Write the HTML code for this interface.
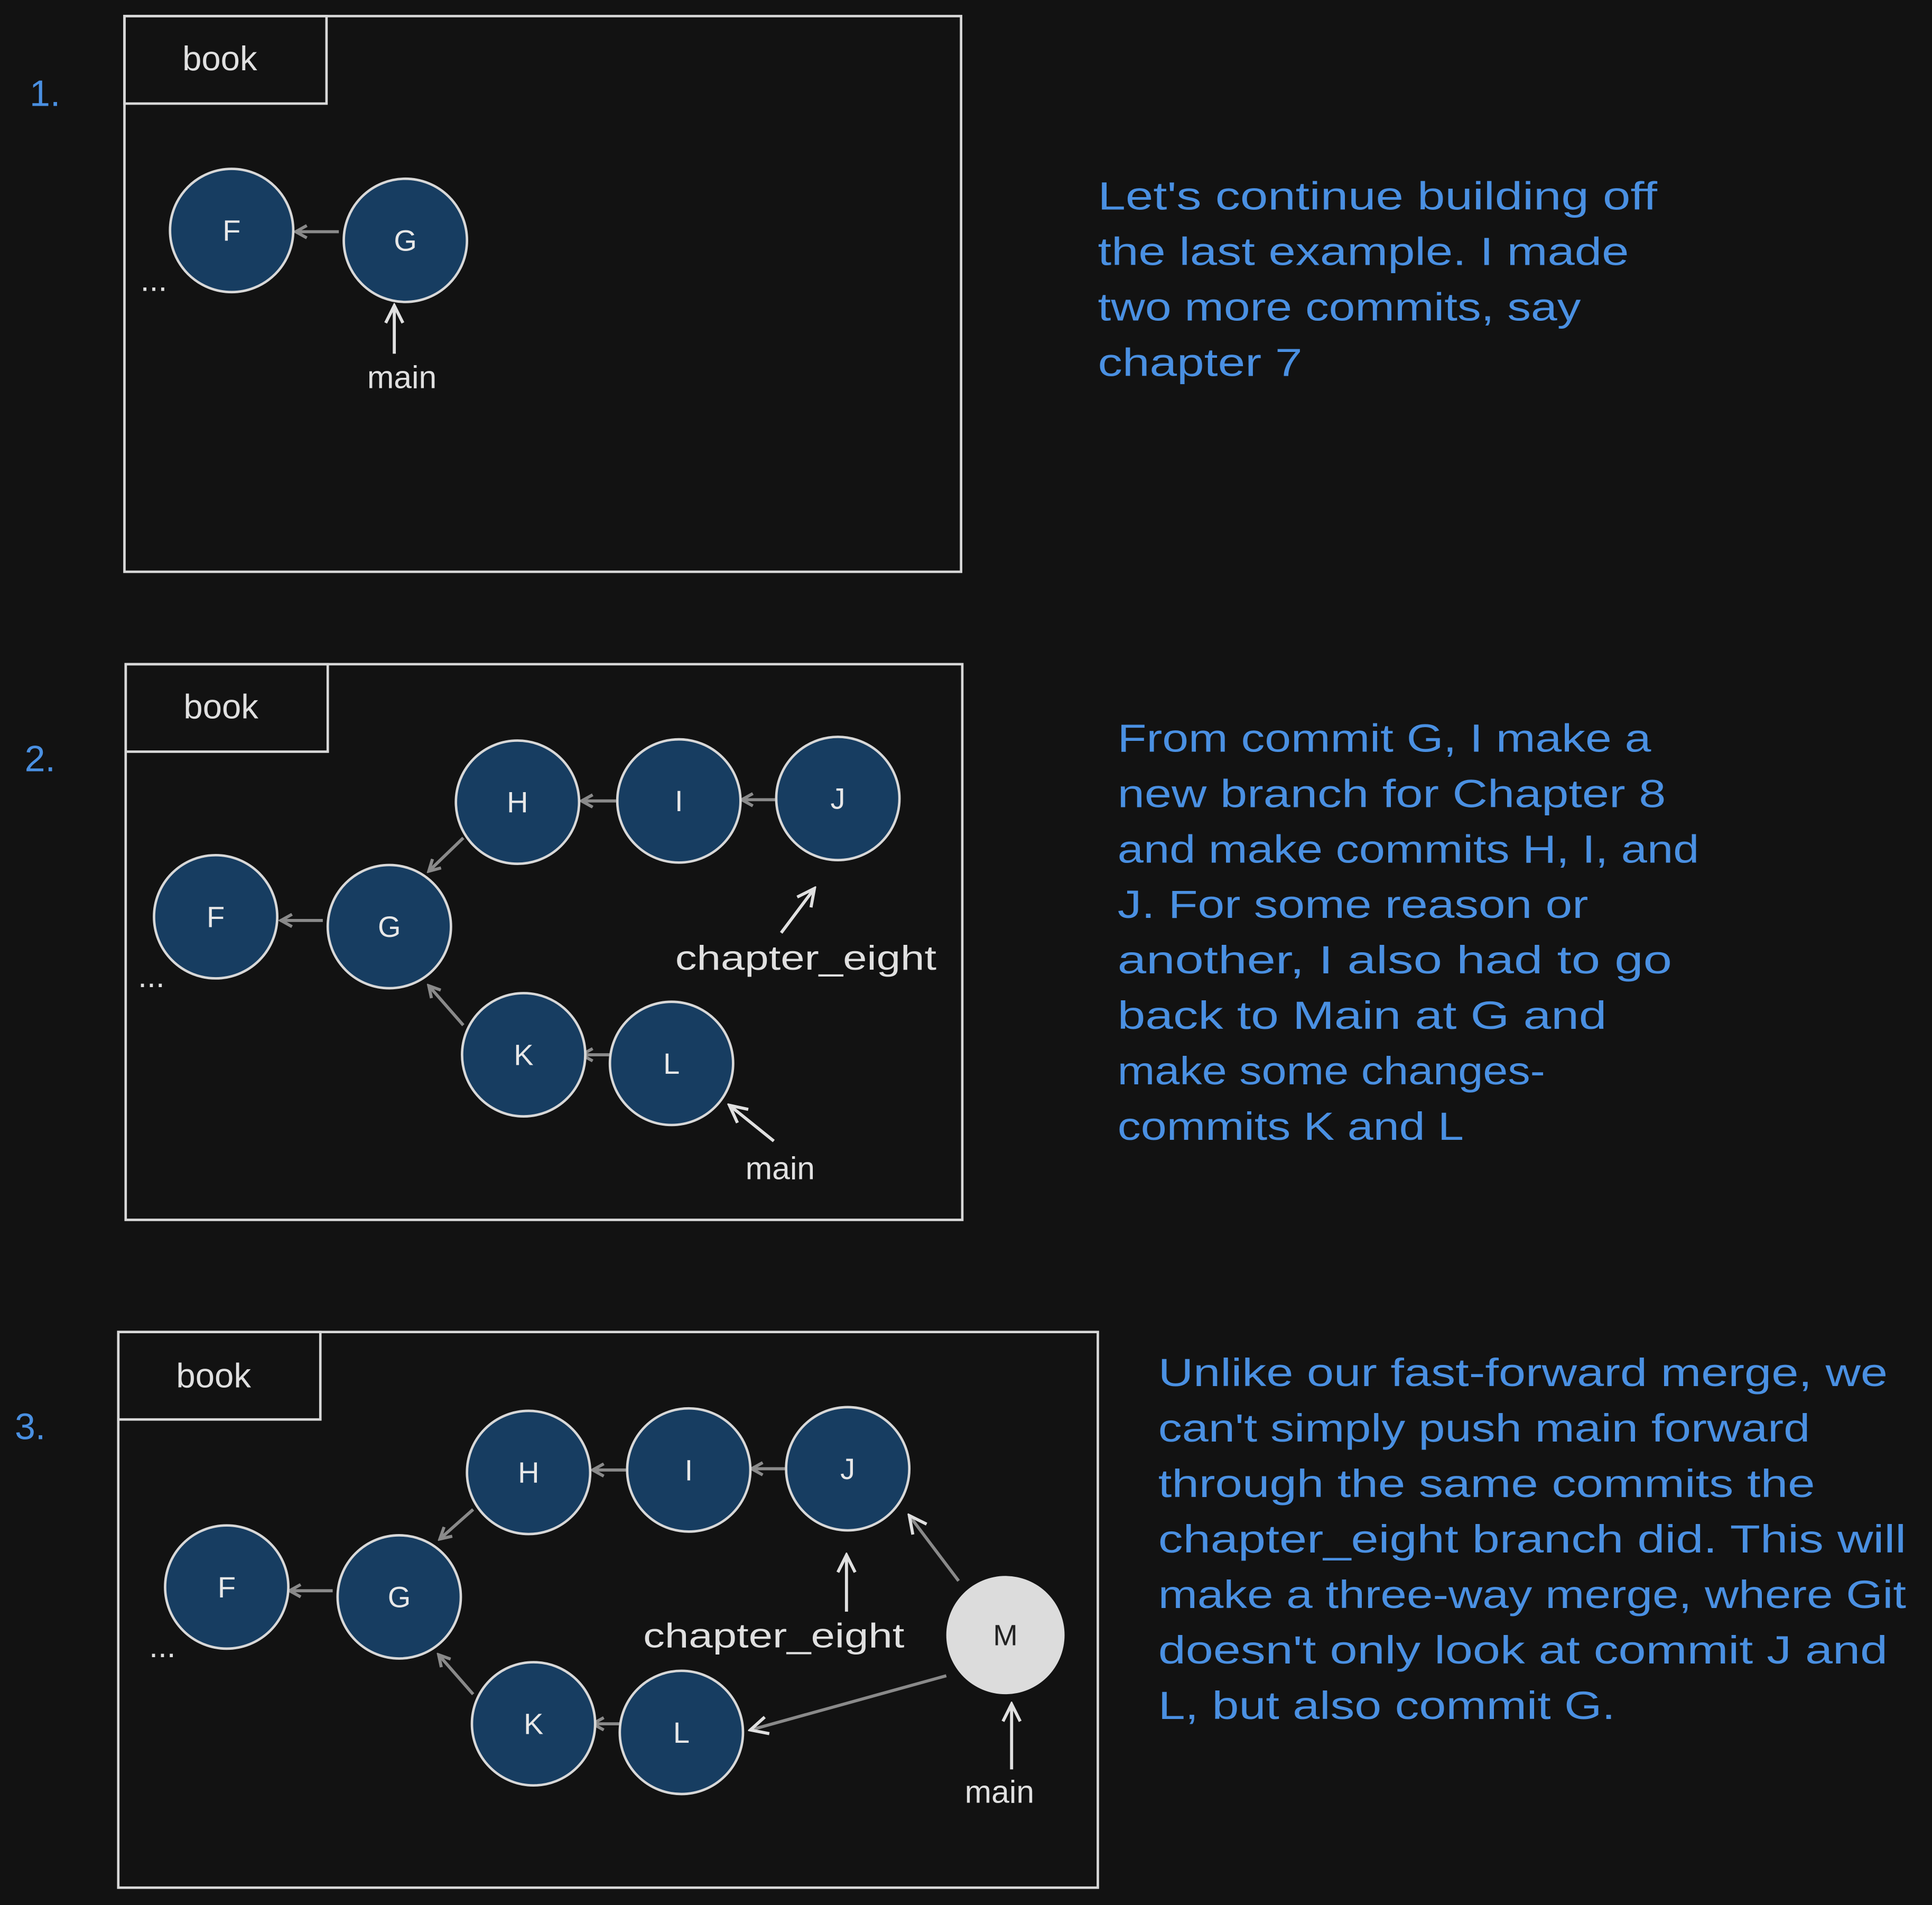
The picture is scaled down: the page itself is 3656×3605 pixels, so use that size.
<!DOCTYPE html>
<html><head><meta charset="utf-8"><style>
html,body{margin:0;padding:0;background:#121212;}
svg{display:block}
text{font-family:"Liberation Sans",sans-serif;}
.b{fill:#4a90e2;font-size:32px}
.w{fill:#e0e0e0;font-size:26px}
.n{fill:#e8e8e8;font-size:24px;text-anchor:middle;dominant-baseline:central}
.box{fill:none;stroke:#d8d8d8;stroke-width:2}
.c{fill:#173d61;stroke:#d8d8d8;stroke-width:2}
.a{stroke:#8a8a8a;stroke-width:2.5;fill:none;marker-end:url(#ah)}
.aw{stroke:#e0e0e0;stroke-width:2.5;fill:none;marker-end:url(#aw)}
</style></head><body>
<svg width="3656" height="3605" viewBox="0 0 1568 1546" xmlns="http://www.w3.org/2000/svg">
<defs>
<marker id="ah" markerWidth="12" markerHeight="12" refX="10" refY="6" orient="auto" markerUnits="userSpaceOnUse"><path d="M1,1 L10,6 L1,11" fill="none" stroke="#8a8a8a" stroke-width="2.5"/></marker>
<marker id="aw" markerWidth="18" markerHeight="18" refX="16" refY="9" orient="auto" markerUnits="userSpaceOnUse"><path d="M2,2 L16,9 L2,16" fill="none" stroke="#e0e0e0" stroke-width="2.5"/></marker>
</defs>
<rect width="1568" height="1546" fill="#121212"/>

<!-- Panel 1 -->
<text class="b" x="24" y="86" style="font-size:30px">1.</text>
<rect class="box" x="101" y="13" width="679" height="451"/>
<rect class="box" x="101" y="13" width="164" height="71"/>
<text class="w" x="148" y="57" style="font-size:28px">book</text>
<line class="a" x1="275" y1="188" x2="240" y2="188"/>
<circle class="c" cx="188" cy="187" r="50"/><text class="n" x="188" y="187">F</text>
<circle class="c" cx="329" cy="195" r="50"/><text class="n" x="329" y="195">G</text>
<text class="w" x="114" y="236">...</text>
<line class="aw" x1="320" y1="287" x2="320" y2="248"/>
<text class="w" x="298" y="315">main</text>
<text class="b" x="891" y="170" textLength="454" lengthAdjust="spacingAndGlyphs">Let's continue building off</text>
<text class="b" x="891" y="215" textLength="431" lengthAdjust="spacingAndGlyphs">the last example. I made</text>
<text class="b" x="891" y="260" textLength="392" lengthAdjust="spacingAndGlyphs">two more commits, say</text>
<text class="b" x="891" y="305" textLength="166" lengthAdjust="spacingAndGlyphs">chapter 7</text>

<!-- Panel 2 -->
<text class="b" x="20" y="626" style="font-size:30px">2.</text>
<rect class="box" x="102" y="539" width="679" height="451"/>
<rect class="box" x="102" y="539" width="164" height="71"/>
<text class="w" x="149" y="583" style="font-size:28px">book</text>
<line class="a" x1="500" y1="650" x2="472" y2="650"/>
<line class="a" x1="630" y1="649" x2="602" y2="649"/>
<line class="a" x1="376" y1="680" x2="348" y2="707"/>
<line class="a" x1="262" y1="747" x2="228" y2="747"/>
<line class="a" x1="376" y1="832" x2="348" y2="800"/>
<line class="a" x1="497" y1="856" x2="472" y2="856"/>
<circle class="c" cx="420" cy="651" r="50"/><text class="n" x="420" y="651">H</text>
<circle class="c" cx="551" cy="650" r="50"/><text class="n" x="551" y="650">I</text>
<circle class="c" cx="680" cy="648" r="50"/><text class="n" x="680" y="648">J</text>
<circle class="c" cx="175" cy="744" r="50"/><text class="n" x="175" y="744">F</text>
<circle class="c" cx="316" cy="752" r="50"/><text class="n" x="316" y="752">G</text>
<circle class="c" cx="425" cy="856" r="50"/><text class="n" x="425" y="856">K</text>
<circle class="c" cx="545" cy="863" r="50"/><text class="n" x="545" y="863">L</text>
<text class="w" x="112" y="801">...</text>
<line class="aw" x1="634" y1="757" x2="661" y2="721"/>
<text class="w" x="548" y="787" textLength="212" lengthAdjust="spacingAndGlyphs" style="font-size:28px">chapter_eight</text>
<line class="aw" x1="628" y1="926" x2="592" y2="897"/>
<text class="w" x="605" y="957">main</text>
<text class="b" x="907" y="610" textLength="433" lengthAdjust="spacingAndGlyphs">From commit G, I make a</text>
<text class="b" x="907" y="655" textLength="445" lengthAdjust="spacingAndGlyphs">new branch for Chapter 8</text>
<text class="b" x="907" y="700" textLength="472" lengthAdjust="spacingAndGlyphs">and make commits H, I, and</text>
<text class="b" x="907" y="745" textLength="382" lengthAdjust="spacingAndGlyphs">J. For some reason or</text>
<text class="b" x="907" y="790" textLength="450" lengthAdjust="spacingAndGlyphs">another, I also had to go</text>
<text class="b" x="907" y="835" textLength="397" lengthAdjust="spacingAndGlyphs">back to Main at G and</text>
<text class="b" x="907" y="880" textLength="347" lengthAdjust="spacingAndGlyphs">make some changes-</text>
<text class="b" x="907" y="925" textLength="281" lengthAdjust="spacingAndGlyphs">commits K and L</text>

<!-- Panel 3 -->
<text class="b" x="12" y="1168" style="font-size:30px">3.</text>
<rect class="box" x="96" y="1081" width="795" height="451"/>
<rect class="box" x="96" y="1081" width="164" height="71"/>
<text class="w" x="143" y="1126" style="font-size:28px">book</text>
<line class="a" x1="508" y1="1193" x2="481" y2="1193"/>
<line class="a" x1="638" y1="1192" x2="610" y2="1192"/>
<line class="a" x1="384" y1="1225" x2="357" y2="1249"/>
<line class="a" x1="270" y1="1291" x2="235" y2="1291"/>
<line class="a" x1="384" y1="1375" x2="356" y2="1343"/>
<line class="a" x1="503" y1="1399" x2="481" y2="1399"/>
<line class="aw" x1="778" y1="1283" x2="738" y2="1230" style="stroke:#8a8a8a"/>
<line class="aw" x1="768" y1="1360" x2="609" y2="1404" style="stroke:#8a8a8a"/>
<circle class="c" cx="429" cy="1195" r="50"/><text class="n" x="429" y="1195">H</text>
<circle class="c" cx="559" cy="1193" r="50"/><text class="n" x="559" y="1193">I</text>
<circle class="c" cx="688" cy="1192" r="50"/><text class="n" x="688" y="1192">J</text>
<circle class="c" cx="184" cy="1288" r="50"/><text class="n" x="184" y="1288">F</text>
<circle class="c" cx="324" cy="1296" r="50"/><text class="n" x="324" y="1296">G</text>
<circle class="c" cx="433" cy="1399" r="50"/><text class="n" x="433" y="1399">K</text>
<circle class="c" cx="553" cy="1406" r="50"/><text class="n" x="553" y="1406">L</text>
<circle cx="816" cy="1327" r="48" fill="#dcdcdc"/><text class="n" x="816" y="1327" style="fill:#222">M</text>
<text class="w" x="121" y="1345">...</text>
<line class="aw" x1="687" y1="1308" x2="687" y2="1262"/>
<text class="w" x="522" y="1337" textLength="212" lengthAdjust="spacingAndGlyphs" style="font-size:28px">chapter_eight</text>
<line class="aw" x1="821" y1="1436" x2="821" y2="1383"/>
<text class="w" x="783" y="1463">main</text>
<text class="b" x="940" y="1125" textLength="592" lengthAdjust="spacingAndGlyphs">Unlike our fast-forward merge, we</text>
<text class="b" x="940" y="1170" textLength="529" lengthAdjust="spacingAndGlyphs">can't simply push main forward</text>
<text class="b" x="940" y="1215" textLength="533" lengthAdjust="spacingAndGlyphs">through the same commits the</text>
<text class="b" x="940" y="1260" textLength="607" lengthAdjust="spacingAndGlyphs">chapter_eight branch did. This will</text>
<text class="b" x="940" y="1305" textLength="607" lengthAdjust="spacingAndGlyphs">make a three-way merge, where Git</text>
<text class="b" x="940" y="1350" textLength="592" lengthAdjust="spacingAndGlyphs">doesn't only look at commit J and</text>
<text class="b" x="940" y="1395" textLength="371" lengthAdjust="spacingAndGlyphs">L, but also commit G.</text>
</svg>
</body></html>
